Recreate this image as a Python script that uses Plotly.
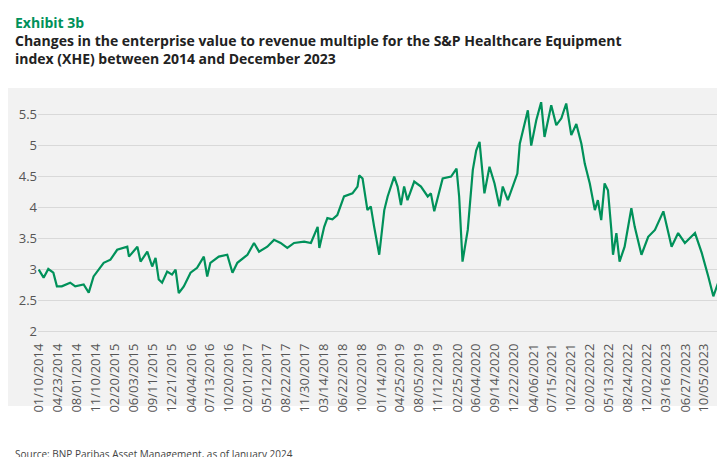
import plotly.graph_objects as go

dates = ["2014-01-10","2014-02-05","2014-03-02","2014-03-29","2014-04-17","2014-05-13","2014-06-27","2014-07-24","2014-09-07","2014-10-04","2014-10-30","2014-12-23","2015-01-28","2015-03-05","2015-04-28","2015-05-07","2015-06-21","2015-07-08","2015-08-13","2015-09-08","2015-09-26","2015-10-13","2015-10-31","2015-11-27","2015-12-23","2016-01-11","2016-01-28","2016-02-24","2016-03-31","2016-05-05","2016-06-10","2016-06-28","2016-07-15","2016-08-29","2016-10-13","2016-11-10","2016-12-06","2017-01-29","2017-03-05","2017-04-01","2017-05-15","2017-06-20","2017-07-25","2017-08-30","2017-10-05","2017-11-28","2018-01-03","2018-02-08","2018-02-17","2018-03-15","2018-04-01","2018-04-28","2018-05-24","2018-06-29","2018-08-13","2018-09-09","2018-09-18","2018-10-06","2018-11-01","2018-11-19","2018-12-07",
"2019-01-03","2019-01-30","2019-02-17","2019-03-24","2019-04-11","2019-04-29","2019-05-16","2019-06-03","2019-07-09","2019-08-14","2019-09-19","2019-10-06","2019-10-24","2019-12-08","2020-01-22","2020-02-20","2020-03-05","2020-03-23","2020-04-20","2020-05-17","2020-06-04","2020-06-22","2020-07-04","2020-07-18","2020-08-14","2020-09-10","2020-10-06","2020-10-24","2020-11-20","2020-12-17","2021-01-10","2021-01-23","2021-02-10","2021-03-07","2021-03-25","2021-04-21","2021-05-17","2021-06-04","2021-07-10","2021-08-06","2021-09-02","2021-09-28","2021-10-25","2021-11-21","2021-12-18","2022-01-05","2022-02-01","2022-02-28","2022-03-16","2022-04-03","2022-04-21","2022-05-09","2022-05-27","2022-06-05","2022-06-23","2022-07-10","2022-08-06","2022-09-11","2022-09-29","2022-11-04","2022-12-10","2023-01-15","2023-03-01","2023-04-14","2023-05-19","2023-06-24","2023-08-17","2023-09-22","2023-10-27","2023-11-23","2023-12-19","2024-01-15","2024-02-05","2024-02-20"]
ev_rev = [2.99,2.86,3.0,2.94,2.72,2.72,2.78,2.72,2.75,2.62,2.88,3.1,3.15,3.31,3.36,3.2,3.36,3.12,3.28,3.04,3.18,2.83,2.78,2.96,2.91,2.99,2.61,2.72,2.94,3.02,3.2,2.88,3.1,3.2,3.23,2.94,3.1,3.23,3.42,3.28,3.36,3.47,3.42,3.34,3.42,3.44,3.42,3.68,3.34,3.68,3.82,3.8,3.87,4.17,4.22,4.33,4.51,4.46,3.95,4.01,3.68,
3.23,3.95,4.17,4.49,4.33,4.03,4.33,4.11,4.41,4.33,4.17,4.22,3.93,4.46,4.49,4.62,4.17,3.12,3.63,4.6,4.91,5.05,4.7,4.22,4.65,4.38,4.01,4.33,4.11,4.35,4.54,5.02,5.24,5.56,4.99,5.4,5.69,5.13,5.64,5.32,5.43,5.67,5.16,5.34,5.02,4.7,4.38,3.95,4.11,3.79,4.38,4.27,3.63,3.23,3.58,3.12,3.36,3.98,3.68,3.23,3.52,3.63,3.93,3.36,3.58,3.42,3.58,3.26,2.88,2.56,2.78,3.07,3.02,3.07]

tick_labels = ["01/10/2014","04/23/2014","08/01/2014","11/10/2014","02/20/2015","06/03/2015","09/11/2015","12/21/2015","04/04/2016","07/13/2016","10/20/2016","02/01/2017","05/12/2017","08/22/2017","11/30/2017","03/14/2018","06/22/2018","10/02/2018","01/14/2019","04/25/2019","08/05/2019","11/12/2019","02/25/2020","06/04/2020","09/14/2020","12/22/2020","04/06/2021","07/15/2021","10/22/2021","02/02/2022","05/13/2022","08/24/2022","12/02/2022","03/16/2023","06/27/2023","10/05/2023"]
tick_vals = [f"{l[6:]}-{l[0:2]}-{l[3:5]}" for l in tick_labels]

green = "#00915A"
W = 725 - 30 - 3
H = 457 - 92 - 125
fig = go.Figure(go.Scatter(x=dates, y=ev_rev, mode="lines", line=dict(color=green, width=2.2)))
fig.update_layout(
    width=725, height=457, paper_bgcolor="white", plot_bgcolor="rgba(0,0,0,0)",
    margin=dict(l=30, r=3, t=92, b=125), showlegend=False,
    font=dict(family="Open Sans, sans-serif", color="#555"),
    shapes=[dict(type="rect", xref="paper", yref="paper", x0=-30/W, x1=1 + 3/W, y0=-(398-332)/H, y1=1 + (92-80)/H,
                 fillcolor="#f2f2f2", line_width=0, layer="below")],
)
fig.add_annotation(text="<b>Exhibit 3b</b>", xref="paper", yref="paper", x=-25/W, y=1 + (92-3)/H, xanchor="left", yanchor="top",
                   showarrow=False, font=dict(size=14, color=green))
fig.add_annotation(text="<b>Changes in the enterprise value to revenue multiple for the S&P Healthcare Equipment<br>index (XHE) between 2014 and December 2023</b>",
                   xref="paper", yref="paper", x=-25/W, y=1 + (92-21)/H, xanchor="left", yanchor="top", align="left",
                   showarrow=False, font=dict(size=14, color="#222"))
fig.add_annotation(text="Source: BNP Paribas Asset Management, as of January 2024", xref="paper", yref="paper",
                   x=-25/W, y=-(437-332)/H, xanchor="left", yanchor="top", showarrow=False,
                   font=dict(size=10, color="#444"))
fig.update_xaxes(type="date", range=["2014-01-06", "2024-02-20"], tickvals=tick_vals, ticktext=tick_labels,
                 tickangle=-90, tickfont=dict(size=13, color="#555"), showgrid=False, zeroline=False, ticks="")
fig.update_yaxes(range=[1.855, 5.726], tickvals=[2,2.5,3,3.5,4,4.5,5,5.5], ticktext=["2","2.5","3","3.5","4","4.5","5","5.5"],
                 gridcolor="#d9d9d9", tickfont=dict(size=13, color="#555"), zeroline=False)
fig.write_html("out.html")
